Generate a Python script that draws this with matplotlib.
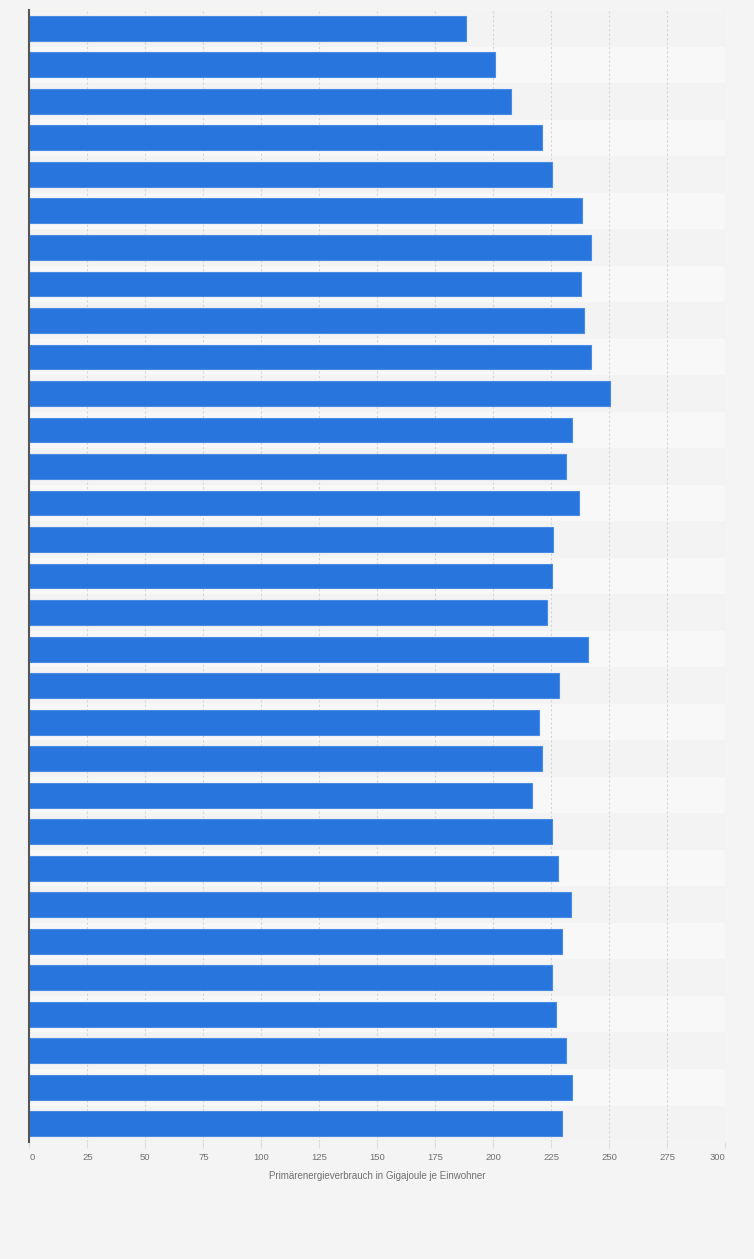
import matplotlib
matplotlib.use("Agg")
import matplotlib.pyplot as plt
import numpy as np

values = [188.1, 200.7, 207.5, 221.0, 225.2, 238.5, 242.4, 238.1, 239.1, 242.1,
          250.6, 234.2, 231.6, 237.2, 226.0, 225.2, 223.4, 241.1, 228.2, 219.6,
          221.0, 216.6, 225.2, 227.8, 233.4, 229.6, 225.2, 227.1, 231.6, 234.2,
          229.6]
xticks = [0, 25, 50, 75, 100, 125, 150, 175, 200, 225, 250, 275, 300]
xlabel = "Primärenergieverbrauch in Gigajoule je Einwohner"

FONT = ['Liberation Sans Narrow', 'Liberation Sans', 'DejaVu Sans']

fig = plt.figure(figsize=(7.54, 12.59), dpi=100, facecolor='#f4f4f4')
ax = fig.add_axes([0.0391, 0.0929, 0.9224, 0.8991])
ax.set_facecolor('#f4f4f4')

n = len(values)
ypos = np.arange(n)

# alternating row bands
for i in range(n):
    ax.axhspan(i - 0.5, i + 0.5, color='#f3f3f3' if i % 2 == 0 else '#f8f8f8',
               zorder=0, lw=0)

ax.barh(ypos, values, height=0.68, color='#2876dd', edgecolor='#4a8be3',
        linewidth=0.8, zorder=3)

ax.set_xlim(0, 300)
ax.set_ylim(n - 0.5, -0.5)
ax.set_yticks([])
ax.set_xticks(xticks)
ax.set_xticklabels([str(t) for t in xticks], fontsize=6.8, color='#707070',
                   family=FONT)
labels = ax.get_xticklabels()
labels[0].set_horizontalalignment('left')
labels[-1].set_horizontalalignment('right')
ax.tick_params(axis='x', length=4, color='#dddddd', pad=4)

ax.grid(axis='x', color='#d6d6d6', linestyle=(0, (2, 2)), linewidth=0.8, zorder=1)
ax.set_axisbelow(True)

for s in ['top', 'right', 'bottom']:
    ax.spines[s].set_visible(False)
ax.spines['left'].set_color('#555555')
ax.spines['left'].set_linewidth(1.5)
ax.spines['left'].set_zorder(4)

ax.set_xlabel(xlabel, fontsize=7, color='#707070', family=FONT, labelpad=6.5)

fig.savefig('out.png', dpi=100, facecolor=fig.get_facecolor())
